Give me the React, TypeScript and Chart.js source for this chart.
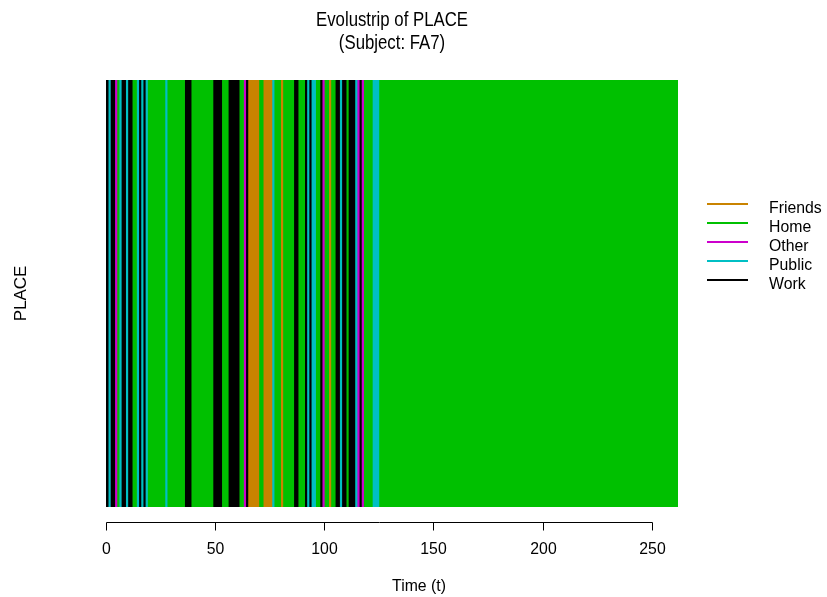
import React, { useEffect, useRef } from "react";
import { Chart, registerables } from "chart.js";

Chart.register(...registerables);

// States and their colours (legend order)
const STATES = ["Friends", "Home", "Other", "Public", "Work"];
const STATE_COLORS = ["#C98300", "#00C000", "#CC00CC", "#00BFC4", "#000000"];

// Run-length encoded sequence of PLACE for subject FA7 (state code, duration in t)
const RUN_STATES = [
  "Work", "Public", "Work", "Other", "Home", "Public", "Work", "Public", "Work", "Home",
  "Public", "Work", "Public", "Work", "Public", "Home", "Public", "Home", "Work", "Home",
  "Work", "Home", "Work", "Home", "Other", "Work", "Friends", "Home", "Friends", "Public",
  "Home", "Friends", "Home", "Work", "Home", "Work", "Public", "Work", "Public", "Home",
  "Work", "Other", "Home", "Friends", "Home", "Work", "Public", "Work", "Home", "Work",
  "Public", "Other", "Work", "Other", "Home", "Public", "Home",
];
const RUN_LENGTHS = [
  1, 1, 2, 1, 1, 1, 2, 1, 2, 2,
  1, 1, 1, 1, 1, 8, 1, 8, 3, 10,
  4, 3, 5, 2, 1, 1, 5, 2, 4, 1,
  3, 1, 5, 2, 3, 1, 1, 1, 2, 2,
  1, 1, 2, 1, 2, 2, 1, 2, 1, 3,
  1, 1, 1, 1, 4, 3, 137,
];

const X_TICKS = [0, 50, 100, 150, 200, 250];
const TITLE_LINES = ["Evolustrip of PLACE", "(Subject: FA7)"];
const X_TITLE = "Time (t)";
const Y_TITLE = "PLACE";

const FONT = '"Liberation Sans", Arial, Helvetica, sans-serif';

export default function App() {
  const canvasRef = useRef<HTMLCanvasElement | null>(null);

  useEffect(() => {
    const canvas = canvasRef.current;
    if (!canvas) return;
    const total = RUN_LENGTHS.reduce((a, b) => a + b, 0);
    const colorOf = (s: string) => STATE_COLORS[STATES.indexOf(s)];

    const datasets = RUN_STATES.map((s, i) => ({
      label: s,
      data: [RUN_LENGTHS[i]],
      backgroundColor: colorOf(s),
      borderWidth: 0,
      barPercentage: 1,
      categoryPercentage: 1,
      stack: "seq",
    }));

    const text = (ctx: CanvasRenderingContext2D, s: string, x: number, y: number, sx: number) => {
      ctx.save();
      ctx.translate(x, y);
      ctx.scale(sx, 1);
      ctx.fillText(s, 0, 0);
      ctx.restore();
    };

    const decor = {
      id: "decor",
      afterDraw(chart: any) {
        const ctx = chart.ctx as CanvasRenderingContext2D;
        const area = chart.chartArea;
        const xs = chart.scales.x;
        ctx.save();
        ctx.fillStyle = "#000";
        ctx.strokeStyle = "#000";
        // Title
        ctx.font = `19.5px ${FONT}`;
        ctx.textAlign = "center";
        ctx.textBaseline = "middle";
        const cx = (area.left + area.right) / 2;
        text(ctx, TITLE_LINES[0], cx, 21, 0.86);
        text(ctx, TITLE_LINES[1], cx, 44, 0.86);

        // X axis
        const axisY = area.bottom + 15.5;
        ctx.lineWidth = 1;
        ctx.beginPath();
        ctx.moveTo(Math.round(xs.getPixelForValue(X_TICKS[0])) + 0.5, axisY);
        ctx.lineTo(Math.round(xs.getPixelForValue(X_TICKS[X_TICKS.length - 1])) + 0.5, axisY);
        ctx.stroke();
        ctx.font = `17px ${FONT}`;
        X_TICKS.forEach((t) => {
          const px = Math.round(xs.getPixelForValue(t)) + 0.5;
          ctx.beginPath();
          ctx.moveTo(px, axisY);
          ctx.lineTo(px, axisY + 8);
          ctx.stroke();
          text(ctx, String(t), px, axisY + 27, 0.93);
        });
        text(ctx, X_TITLE, 419, 586, 0.93);

        // Y title
        ctx.save();
        ctx.translate(22, (area.top + area.bottom) / 2);
        ctx.rotate(-Math.PI / 2);
        ctx.scale(1, 0.93);
        ctx.fillText(Y_TITLE, 0, 0);
        ctx.restore();

        // Legend
        ctx.textAlign = "left";
        ctx.textBaseline = "alphabetic";
        ctx.lineWidth = 2;
        STATES.forEach((s, i) => {
          const y = 204 + i * 19;
          ctx.strokeStyle = STATE_COLORS[i];
          ctx.beginPath();
          ctx.moveTo(707, y);
          ctx.lineTo(748, y);
          ctx.stroke();
          text(ctx, s, 769, y + 9, 0.93);
        });
        ctx.restore();
      },
    };

    const chart = new Chart(canvas, {
      type: "bar",
      data: { labels: ["FA7"], datasets: datasets as any },
      options: {
        indexAxis: "y",
        responsive: false,
        animation: false,
        devicePixelRatio: 1,
        layout: { padding: { left: 106, top: 80, right: 149, bottom: 90 } },
        scales: {
          x: { type: "linear", stacked: true, min: 0, max: total, display: false },
          y: { stacked: true, display: false },
        },
        plugins: {
          legend: { display: false },
          title: { display: false },
          tooltip: { enabled: false },
        },
      },
      plugins: [decor],
    });
    return () => chart.destroy();
  }, []);

  return (
    <div style={{ position: "fixed", left: 0, top: 0, width: 827, height: 597, background: "#fff" }}>
      <canvas ref={canvasRef} width={827} height={597} />
    </div>
  );
}
